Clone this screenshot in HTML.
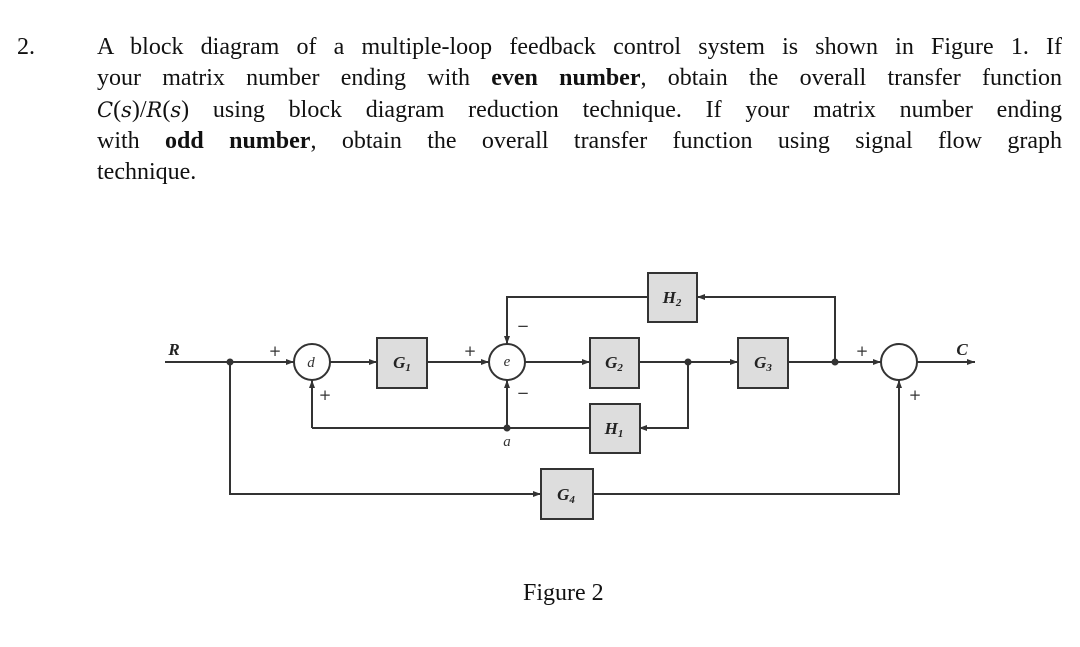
<!DOCTYPE html>
<html><head><meta charset="utf-8"><style>
body{margin:0;width:1080px;height:647px;background:#fff;position:relative;overflow:hidden;font-family:"Liberation Serif","Times New Roman",serif;color:#111}
.num{position:absolute;left:17px;top:32px;font-size:24px;line-height:31.25px}
.p{position:absolute;left:97px;top:32px;width:965px;font-size:24px;line-height:31.25px}
.l{text-align:justify;text-align-last:justify;white-space:nowrap;height:31.25px}
.l.last{text-align-last:left}
.m{font-family:"DejaVu Serif",serif;font-style:italic;font-size:21px}
.fig{position:absolute;left:523px;top:580px;font-size:24px}
svg{position:absolute;left:0;top:0}
</style></head><body>
<div class="num">2.</div>
<div class="p">
<div class="l">A block diagram of a multiple-loop feedback control system is shown in Figure 1. If</div>
<div class="l">your matrix number ending with <b>even number</b>, obtain the overall transfer function</div>
<div class="l"><span class="m">C</span>(<span class="m">s</span>)/<span class="m">R</span>(<span class="m">s</span>) using block diagram reduction technique. If your matrix number ending</div>
<div class="l">with <b>odd number</b>, obtain the overall transfer function using signal flow graph</div>
<div class="l last">technique.</div>
</div>
<svg width="1080" height="647" viewBox="0 0 1080 647">
<defs><marker id="a" markerWidth="8" markerHeight="6" refX="8" refY="3" orient="auto" markerUnits="userSpaceOnUse"><path d="M0,0 L8,3 L0,6 z" fill="#333"/></marker></defs>
<g stroke="#333" stroke-width="2" fill="none">
<line x1="165" y1="362" x2="294" y2="362" marker-end="url(#a)"/>
<line x1="330" y1="362" x2="377" y2="362" marker-end="url(#a)"/>
<line x1="427" y1="362" x2="489" y2="362" marker-end="url(#a)"/>
<line x1="525" y1="362" x2="590" y2="362" marker-end="url(#a)"/>
<line x1="639" y1="362" x2="738" y2="362" marker-end="url(#a)"/>
<line x1="788" y1="362" x2="881" y2="362" marker-end="url(#a)"/>
<line x1="917" y1="362" x2="975" y2="362" marker-end="url(#a)"/>
<polyline points="835,362 835,297 697,297" marker-end="url(#a)"/>
<polyline points="648,297 507,297 507,344" marker-end="url(#a)"/>
<polyline points="688,362 688,428 639,428" marker-end="url(#a)"/>
<line x1="590" y1="428" x2="312" y2="428"/>
<line x1="312" y1="428" x2="312" y2="380" marker-end="url(#a)"/>
<line x1="507" y1="428" x2="507" y2="380" marker-end="url(#a)"/>
<polyline points="230,362 230,494 541,494" marker-end="url(#a)"/>
<polyline points="593,494 899,494 899,380" marker-end="url(#a)"/>
<circle cx="312" cy="362" r="18"/>
<circle cx="507" cy="362" r="18"/>
<circle cx="899" cy="362" r="18"/>
</g>
<g fill="#ddd" stroke="#333" stroke-width="2">
<rect x="377" y="338" width="50" height="50"/>
<rect x="590" y="338" width="49" height="50"/>
<rect x="738" y="338" width="50" height="50"/>
<rect x="648" y="273" width="49" height="49"/>
<rect x="590" y="404" width="50" height="49"/>
<rect x="541" y="469" width="52" height="50"/>
</g>
<g fill="#333"><circle cx="230" cy="362" r="3.5"/><circle cx="507" cy="428" r="3.5"/><circle cx="688" cy="362" r="3.5"/><circle cx="835" cy="362" r="3.5"/></g>
<g font-family="Liberation Serif,serif" font-style="italic" font-weight="bold" font-size="17" fill="#222" text-anchor="middle">
<text x="402" y="368">G<tspan font-size="11" dy="3">1</tspan></text>
<text x="614" y="368">G<tspan font-size="11" dy="3">2</tspan></text>
<text x="763" y="368">G<tspan font-size="11" dy="3">3</tspan></text>
<text x="672" y="303">H<tspan font-size="11" dy="3">2</tspan></text>
<text x="614" y="434">H<tspan font-size="11" dy="3">1</tspan></text>
<text x="566" y="500">G<tspan font-size="11" dy="3">4</tspan></text>
<text x="174" y="355">R</text>
<text x="962" y="355">C</text>
</g>
<g font-family="Liberation Serif,serif" font-style="italic" font-size="15" fill="#333" text-anchor="middle">
<text x="311" y="367">d</text><text x="507" y="366">e</text><text x="507" y="446">a</text>
</g>
<g font-family="DejaVu Sans,sans-serif" font-size="15" fill="#333" text-anchor="middle">
<text x="275" y="356">+</text><text x="325" y="400">+</text>
<text x="470" y="356">+</text><text x="523" y="331">−</text><text x="523" y="398">−</text>
<text x="862" y="356">+</text><text x="915" y="400">+</text>
</g>
</svg>
<div class="fig">Figure 2</div>
</body></html>
